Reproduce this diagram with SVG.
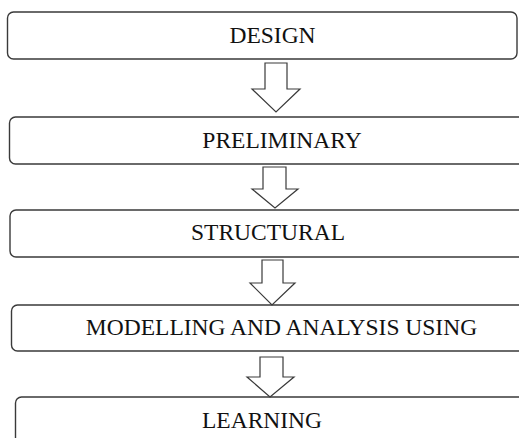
<svg xmlns="http://www.w3.org/2000/svg" width="519" height="438" viewBox="0 0 519 438">
  <style>
    .box { fill: #ffffff; stroke: #3a3a3a; stroke-width: 1.4; }
    .arrow { fill: #ffffff; stroke: #3a3a3a; stroke-width: 1.2; stroke-linejoin: miter; }
    .label { font-family: "Liberation Serif", "Times New Roman", serif; font-size: 23.5px; fill: #111111; text-anchor: middle; }
  </style>
  <rect width="519" height="438" fill="#ffffff"/>

  <g id="design">
    <rect class="box" x="7.5" y="12" width="509.5" height="47" rx="6"/>
    <text class="label" x="272.5" y="43">DESIGN</text>
  </g>
  <g id="preliminary">
    <rect class="box" x="9.5" y="117" width="520" height="47" rx="6"/>
    <text class="label" x="282" y="148">PRELIMINARY</text>
  </g>
  <g id="structural">
    <rect class="box" x="10" y="210" width="520" height="47" rx="6"/>
    <text class="label" x="268" y="240">STRUCTURAL</text>
  </g>
  <g id="modelling">
    <rect class="box" x="11.5" y="305" width="520" height="46" rx="6"/>
    <text class="label" x="281.5" y="335">MODELLING AND ANALYSIS USING</text>
  </g>
  <g id="learning">
    <rect class="box" x="15.5" y="397" width="520" height="60" rx="6"/>
    <text class="label" x="262" y="428">LEARNING</text>
  </g>

  <g id="connectors">
    <polygon class="arrow" points="265,63 287,63 287,89 300,89 276,112 252,89 265,89"/>
    <polygon class="arrow" points="263,167 286,167 286,189 298,189 275,208 252,189 263,189"/>
    <polygon class="arrow" points="262,260 283,260 283,283 295,283 272,305 250,283 262,283"/>
    <polygon class="arrow" points="260,357 283,357 283,377 294,377 270,397 247,377 260,377"/>
  </g>
</svg>
